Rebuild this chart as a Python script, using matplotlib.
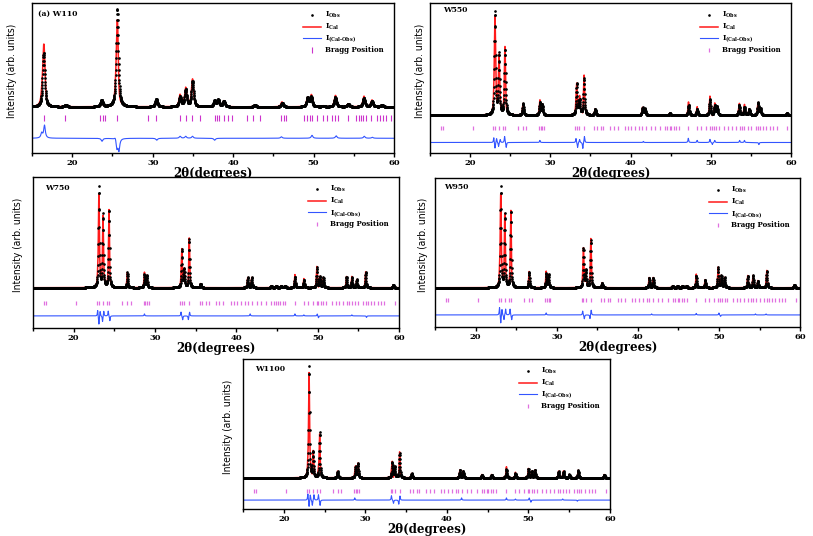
import numpy as np
import matplotlib
matplotlib.use("Agg")
import matplotlib.pyplot as plt
from matplotlib import font_manager as fm
from matplotlib.ticker import MultipleLocator, NullLocator

# ------------------------------------------------------------------ data
# peaks: (2theta, height relative to strongest peak)
w110_peaks = [(16.45, 0.55), (19.2, 0.02), (23.65, 0.07), (25.6, 1.0), (30.45, 0.08),
              (33.4, 0.10), (34.1, 0.17), (34.95, 0.26), (37.7, 0.06), (38.15, 0.07),
              (38.85, 0.06), (42.7, 0.02), (46.1, 0.04), (49.25, 0.09), (49.7, 0.10),
              (51.2, 0.01), (52.7, 0.10), (54.3, 0.03), (56.25, 0.09), (57.25, 0.06),
              (58.5, 0.02)]
w550_peaks = [(23.1, 0.98), (23.6, 0.57), (24.35, 0.62), (26.6, 0.11), (28.7, 0.12),
              (29.0, 0.10), (33.3, 0.30), (33.65, 0.14), (34.2, 0.35), (35.6, 0.06),
              (41.5, 0.07), (41.8, 0.06), (44.9, 0.02), (47.25, 0.10), (48.3, 0.06),
              (49.9, 0.15), (50.5, 0.09), (50.8, 0.08), (53.55, 0.10), (54.2, 0.08),
              (54.8, 0.06), (55.9, 0.12), (56.2, 0.06), (59.5, 0.02)]
w750_peaks = [(23.1, 1.0), (23.6, 0.72), (24.35, 0.77), (26.6, 0.15), (28.7, 0.13),
              (29.0, 0.12), (33.3, 0.38), (33.6, 0.18), (34.2, 0.48), (35.6, 0.04),
              (41.4, 0.10), (41.9, 0.10), (44.3, 0.02), (44.9, 0.02), (45.5, 0.02),
              (46.0, 0.02), (47.2, 0.11), (48.3, 0.08), (49.9, 0.20), (50.3, 0.11),
              (50.7, 0.10), (53.55, 0.11), (54.2, 0.10), (54.8, 0.08), (55.9, 0.16),
              (59.3, 0.03)]
w950_peaks = [(23.1, 1.0), (23.6, 0.72), (24.35, 0.76), (26.6, 0.16), (28.7, 0.14),
              (29.0, 0.13), (33.3, 0.39), (33.6, 0.17), (34.2, 0.47), (35.6, 0.05),
              (41.4, 0.10), (41.9, 0.10), (44.3, 0.02), (44.9, 0.02), (45.5, 0.02),
              (46.0, 0.02), (47.2, 0.12), (48.3, 0.08), (49.9, 0.20), (50.3, 0.12),
              (50.7, 0.10), (53.55, 0.12), (54.2, 0.12), (54.8, 0.07), (55.9, 0.17),
              (59.3, 0.03)]
w1100_peaks = [(23.1, 1.0), (23.6, 0.23), (24.4, 0.41), (26.6, 0.06), (28.8, 0.10),
               (29.1, 0.13), (33.3, 0.14), (33.6, 0.10), (34.2, 0.22), (35.7, 0.04),
               (41.6, 0.07), (42.0, 0.06), (44.3, 0.03), (45.5, 0.03), (47.3, 0.08),
               (48.4, 0.04), (50.0, 0.08), (50.4, 0.06), (50.8, 0.07), (53.7, 0.06),
               (54.3, 0.06), (55.0, 0.03), (56.1, 0.07), (59.3, 0.03)]

# (Cal-Obs) features: (2theta, signed amplitude)
w110_diff = [(16.2, 0.05), (16.55, 0.13), (23.7, -0.03), (25.35, 0.03), (25.55, -0.10),
             (25.8, -0.12), (30.5, -0.02), (33.4, 0.02), (34.1, 0.02), (34.95, 0.02),
             (37.7, -0.02), (46.0, 0.015), (49.8, 0.03), (52.8, 0.025), (56.3, 0.02),
             (57.3, 0.01)]
w550_diff = [(22.95, 0.05), (23.1, -0.06), (23.3, 0.04), (23.55, -0.04), (23.75, 0.03),
             (24.3, 0.06), (24.5, -0.05), (28.7, 0.02), (33.2, 0.04), (33.4, -0.05),
             (33.65, 0.03), (34.05, -0.06), (34.25, 0.06), (41.6, 0.01), (47.2, 0.04),
             (48.3, 0.02), (49.9, 0.03), (50.2, -0.02), (50.5, 0.02), (53.6, 0.02),
             (54.2, 0.02), (56.0, -0.02)]
w750_diff = [(22.95, 0.06), (23.1, -0.09), (23.25, 0.05), (23.55, -0.06), (23.7, 0.05),
             (24.25, 0.05), (24.45, -0.05), (28.7, 0.02), (33.2, 0.04), (33.4, -0.04),
             (34.1, -0.04), (34.25, 0.04), (41.7, 0.02), (47.2, 0.02), (48.3, 0.01),
             (49.95, 0.02), (50.1, -0.02), (54.2, 0.01), (56.0, -0.015)]
w950_diff = [(22.95, 0.08), (23.1, -0.09), (23.25, 0.06), (23.5, -0.05), (23.7, 0.06),
             (24.25, 0.06), (24.45, -0.05), (28.7, 0.02), (33.2, 0.04), (33.4, -0.04),
             (34.1, -0.04), (34.25, 0.05), (41.7, 0.01), (47.2, 0.015), (50.0, 0.02),
             (50.2, -0.015), (54.5, 0.01), (55.8, 0.01)]
w1100_diff = [(22.95, 0.06), (23.1, -0.065), (23.25, 0.05), (23.5, -0.05), (23.7, 0.05),
              (24.25, 0.05), (24.45, -0.05), (28.7, 0.02), (33.2, 0.04), (33.45, -0.03),
              (34.1, -0.04), (34.25, 0.04), (41.8, 0.02), (47.3, 0.02), (48.4, 0.01),
              (50.1, 0.02), (50.3, -0.02), (54.2, 0.01), (56.0, -0.01)]

# Bragg positions
w110_bragg = [16.5, 19.1, 23.5, 23.8, 24.1, 25.6, 29.4, 30.45, 33.4, 34.1, 34.9, 35.9,
              37.7, 37.95, 38.2, 38.8, 39.3, 39.9, 41.7, 42.5, 43.3, 45.9, 46.3, 46.6,
              48.8, 49.2, 49.55, 49.8, 50.4, 51.2, 51.7, 52.3, 52.7, 53.0, 54.3, 55.3,
              55.6, 55.9, 56.2, 56.5, 57.1, 57.9, 58.3, 58.6, 59.0, 59.6]
wo3_bragg = [16.4, 16.6, 20.3, 22.9, 23.1, 23.6, 24.1, 24.4, 26.0, 26.6, 27.0, 28.6,
             28.8, 29.0, 29.2, 33.1, 33.3, 33.6, 34.2, 35.5, 35.8, 36.3, 36.6, 37.5,
             37.9, 38.4, 39.3, 39.7, 40.1, 40.6, 41.1, 41.4, 41.9, 42.5, 43.0, 43.7,
             44.3, 44.6, 44.9, 45.1, 45.4, 45.7, 46.0, 47.2, 48.3, 48.8, 49.4, 49.9,
             50.1, 50.4, 50.7, 51.0, 51.7, 52.2, 52.6, 53.1, 53.6, 53.9, 54.2, 54.6,
             55.0, 55.6, 55.9, 56.2, 56.5, 56.9, 57.4, 57.8, 58.2, 59.5]

labels = ["(a) W110", "W550", "W750", "W950", "W1100"]

# ------------------------------------------------------------------ helpers
def profile(x, peaks, w):
    y = np.zeros_like(x)
    for p, h in peaks:
        u = (x - p) / w
        y += h * (0.7 / (1 + u ** 2) + 0.3 * np.exp(-np.log(2) * u ** 2))
    return y

def diff_curve(x, feats, w):
    y = np.zeros_like(x)
    for p, a in feats:
        y += a / (1 + ((x - p) / w) ** 2)
    return y

serif_bold = dict(family="DejaVu Serif", weight="bold")
try:
    fm.findfont("Liberation Sans Narrow", fallback_to_default=False)
    ylab_font = dict(family="Liberation Sans Narrow", size=8.5)
except Exception:
    ylab_font = dict(family="DejaVu Sans", size=7.4, stretch="condensed")

plt.rcParams["mathtext.fontset"] = "custom"
plt.rcParams["mathtext.rm"] = "DejaVu Serif:bold"
plt.rcParams["mathtext.it"] = "DejaVu Serif:bold"
plt.rcParams["mathtext.default"] = "rm"

fig = plt.figure(figsize=(8.13, 5.36), dpi=100)

panels = [
    dict(rect=[0.0394, 0.7146, 0.4453, 0.2799], peaks=w110_peaks, diff=w110_diff,
         bragg=w110_bragg, ylim=(-0.47, 1.06), yb=-0.11, yd=-0.32, w=0.16, dw=0.12,
         ylx=-0.041, lab=(0.017, 0.93), big=True),
    dict(rect=[0.5289, 0.7146, 0.4440, 0.2799], peaks=w550_peaks, diff=w550_diff,
         bragg=wo3_bragg, ylim=(-0.36, 1.07), yb=-0.12, yd=-0.26, w=0.09, dw=0.05,
         ylx=-0.014, lab=(0.036, 0.95), big=False),
    dict(rect=[0.0406, 0.3881, 0.4502, 0.2817], peaks=w750_peaks, diff=w750_diff,
         bragg=wo3_bragg, ylim=(-0.40, 1.10), yb=-0.15, yd=-0.28, w=0.07, dw=0.045,
         ylx=-0.027, lab=(0.033, 0.93), big=False),
    dict(rect=[0.5351, 0.3899, 0.4490, 0.2780], peaks=w950_peaks, diff=w950_diff,
         bragg=wo3_bragg, ylim=(-0.39, 1.09), yb=-0.12, yd=-0.27, w=0.07, dw=0.045,
         ylx=-0.019, lab=(0.025, 0.94), big=False),
    dict(rect=[0.2989, 0.0504, 0.4514, 0.2799], peaks=w1100_peaks, diff=w1100_diff,
         bragg=wo3_bragg, ylim=(-0.28, 1.07), yb=-0.12, yd=-0.20, w=0.07, dw=0.045,
         ylx=-0.027, lab=(0.033, 0.93), big=False),
]

x_calc = np.arange(15, 60.001, 0.01)
x_obs = np.arange(15, 60.001, 0.02)

for lab, pan in zip(labels, panels):
    ax = fig.add_axes(pan["rect"])
    y_obs = profile(x_obs, pan["peaks"], pan["w"])
    d_calc = diff_curve(x_calc, pan["diff"], pan["dw"])
    y_cal = profile(x_calc, pan["peaks"], pan["w"]) + d_calc

    l_cal, = ax.plot(x_calc, y_cal, color="#ff1a1a", lw=1.1, zorder=2)
    l_obs, = ax.plot(x_obs, y_obs, ".", color="black", ms=1.8, zorder=3)
    l_dif, = ax.plot(x_calc, pan["yd"] + d_calc, color="#3355ff", lw=0.8, zorder=2)
    if pan["big"]:
        l_brg, = ax.plot(pan["bragg"], [pan["yb"]] * len(pan["bragg"]), "|",
                         color="#cc33cc", ms=4, mew=0.8, zorder=2)
    else:
        l_brg, = ax.plot(pan["bragg"], [pan["yb"]] * len(pan["bragg"]), "|",
                         color="#e070e0", ms=2.2, mew=0.9, zorder=2)

    ax.set_xlim(15, 60)
    ax.set_ylim(*pan["ylim"])
    ax.xaxis.set_major_locator(MultipleLocator(10))
    ax.xaxis.set_minor_locator(MultipleLocator(5))
    ax.yaxis.set_major_locator(NullLocator())
    ax.tick_params(axis="x", which="major", direction="out", length=3, width=1, pad=1.5)
    ax.tick_params(axis="x", which="minor", direction="out", length=2, width=1)
    for t in ax.get_xticklabels():
        t.set_fontfamily("DejaVu Serif")
        t.set_fontweight("bold")
        t.set_fontsize(6)
    for s in ax.spines.values():
        s.set_linewidth(1.0)

    ax.set_xlabel("2\u03b8(degrees)", fontsize=8.5, labelpad=0, **serif_bold)
    ax.set_ylabel("Intensity (arb. units)", **ylab_font)
    ax.yaxis.set_label_coords(pan["ylx"], 0.55)

    ax.text(pan["lab"][0], pan["lab"][1], lab, transform=ax.transAxes,
            fontsize=5.5, ha="left", va="center", **serif_bold)

    ax.legend([l_obs, l_cal, l_dif, l_brg],
              [r"$I_{Obs}$", r"$I_{Cal}$", r"$I_{(Cal\text{-}Obs)}$", "Bragg Position"],
              loc="upper right", bbox_to_anchor=(0.985, 0.985), frameon=False,
              prop=dict(family="DejaVu Serif", weight="bold", size=5),
              handlelength=2.6, labelspacing=0.25, borderpad=0.2, handletextpad=0.6,
              markerscale=1.0)

fig.savefig("out.png", dpi=100)
